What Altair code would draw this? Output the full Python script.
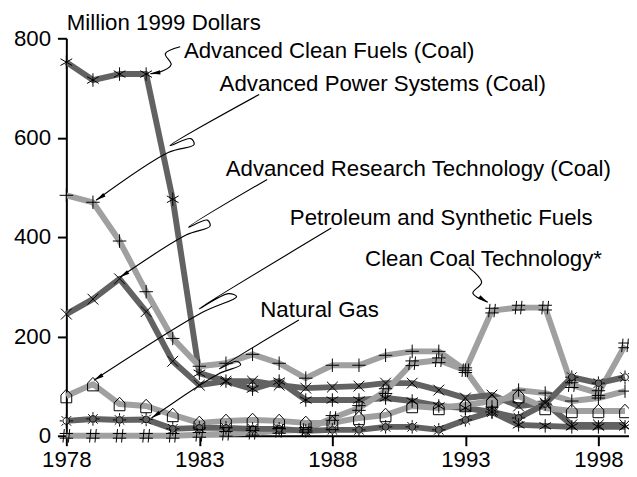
import math
import altair as alt
import pandas as pd

# ---------------- data ----------------
years = list(range(1978, 2000))

series_names = [
    "Advanced Clean Fuels (Coal)",
    "Advanced Power Systems (Coal)",
    "Advanced Research Technology (Coal)",
    "Petroleum and Synthetic Fuels",
    "Clean Coal Technology*",
    "Natural Gas",
]

adv_clean_fuels = [752, 716, 728, 728, 476, 126, 110, 94, 110, 72, 72, 72, 76, 70, 60, 56, 48, 22, 20, 18, 18, 18]
adv_power_sys = [484, 470, 392, 290, 196, 140, 146, 164, 146, 116, 142, 142, 162, 170, 170, 132, 58, 92, 86, 70, 76, 90]
adv_research = [245, 275, 316, 250, 150, 102, 110, 110, 102, 96, 98, 100, 106, 106, 92, 76, 82, 60, 66, 22, 22, 22]
petroleum = [80, 104, 64, 60, 42, 26, 30, 32, 30, 26, 26, 36, 42, 60, 56, 62, 70, 80, 56, 50, 50, 50]
clean_coal = [0, 0, 0, 0, 0, 2, 4, 6, 10, 12, 36, 56, 90, 146, 152, 132, 252, 258, 258, 102, 86, 182]
natural_gas = [30, 34, 32, 33, 14, 16, 16, 14, 14, 10, 12, 12, 18, 18, 12, 32, 48, 36, 64, 118, 106, 118]

series_values = [adv_clean_fuels, adv_power_sys, adv_research, petroleum, clean_coal, natural_gas]

DARK = "#626262"
LIGHT = "#a0a0a0"
series_colors = [DARK, LIGHT, DARK, LIGHT, LIGHT, DARK]

# marker glyphs (unit-square SVG paths)
STAR = "M0,-1L0,1M-0.87,-0.5L0.87,0.5M-0.87,0.5L0.87,-0.5"
PLUS = "M-1,0L1,0M0,-1L0,1"
XMARK = "M-0.8,-0.8L0.8,0.8M-0.8,0.8L0.8,-0.8"
HOUSE = "M-0.8,1L0.8,1L0.8,-0.15L0,-1L-0.8,-0.15Z"
HASH = "M-0.3,-1L-0.5,1M0.5,-1L0.3,1M-1,-0.35L1,-0.35M-1,0.35L1,0.35"
rays = "".join(
    "M{:.3f},{:.3f}L{:.3f},{:.3f}".format(
        0.62 * math.cos(a), 0.62 * math.sin(a), 1.0 * math.cos(a), 1.0 * math.sin(a)
    )
    for a in [k * math.pi / 4 for k in range(8)]
)
SUN = "M-0.5,0A0.5,0.5 0 1,0 0.5,0A0.5,0.5 0 1,0 -0.5,0" + rays
series_shapes = [STAR, PLUS, XMARK, HOUSE, HASH, SUN]

# annotation labels (left edge / baseline, in data units)
label_text = series_names
label_year = [1982.42, 1983.76, 1983.99, 1986.40, 1989.23, 1985.29]
label_value = [761, 693, 522, 424, 341, 239]

# annotation leader paths (data units), last point is the arrow tip
arrow_paths = {
    "Advanced Clean Fuels (Coal)": [(1982.28, 783), (1981.72, 769), (1981.94, 747), (1981.46, 731), (1981.16, 729)],
    "Advanced Power Systems (Coal)": [(1985.25, 687), (1981.90, 584), (1982.68, 598), (1982.80, 586), (1981.83, 570), (1979.12, 474)],
    "Advanced Research Technology (Coal)": [(1985.55, 516), (1982.60, 420), (1983.30, 434), (1983.40, 422), (1982.50, 404), (1980.01, 319)],
    "Petroleum and Synthetic Fuels": [(1987.96, 418), (1983.00, 256), (1984.10, 286), (1984.40, 280), (1983.10, 248), (1979.04, 112)],
    "Natural Gas": [(1986.74, 233), (1983.75, 135), (1984.40, 150), (1984.55, 143), (1983.70, 124), (1981.20, 36)],
    "Clean Coal Technology*": [(1993.13, 339), (1993.61, 309), (1993.28, 287), (1993.84, 269)],
}

# ---------------- layout ----------------
PLOT_W, PLOT_H = 569, 402
X_DOMAIN = [1978, 1999.15]
Y_DOMAIN = [0, 800]
PX_PER_YEAR = PLOT_W / (X_DOMAIN[1] - X_DOMAIN[0])
PX_PER_UNIT = PLOT_H / (Y_DOMAIN[1] - Y_DOMAIN[0])
FONT = "Liberation Sans"
FS = 22.5

rows = []
for name, vals in zip(series_names, series_values):
    for yr, v in zip(years, vals):
        rows.append({"series": name, "year": yr, "value": v})
df = pd.DataFrame(rows)

labels_df = pd.DataFrame({"label": label_text, "year": label_year, "value": label_value})

arrow_rows, head_rows = [], []
for name, pts in arrow_paths.items():
    for i, (x, y) in enumerate(pts):
        arrow_rows.append({"id": name, "ord": i, "year": x, "value": y})
    (x0, y0), (x1, y1) = pts[-2], pts[-1]
    dx = (x1 - x0) * PX_PER_YEAR
    dy = -(y1 - y0) * PX_PER_UNIT
    ang = math.degrees(math.atan2(dx, -dy)) % 360
    head_rows.append({"year": x1, "value": y1, "angle": ang})
arrows_df = pd.DataFrame(arrow_rows)
heads_df = pd.DataFrame(head_rows)

X = alt.X(
    "year:Q",
    scale=alt.Scale(domain=X_DOMAIN, nice=False, zero=False),
    axis=alt.Axis(
        values=[1978, 1983, 1988, 1993, 1998],
        format="d",
        title=None,
        tickSize=10,
        labelPadding=3,
        labelFlush=False,
        labelOverlap=False,
        grid=False,
    ),
)
Y = alt.Y(
    "value:Q",
    scale=alt.Scale(domain=Y_DOMAIN, nice=False),
    axis=alt.Axis(
        values=[0, 200, 400, 600, 800],
        title="Million 1999 Dollars",
        titleAngle=0,
        titleAlign="left",
        titleBaseline="alphabetic",
        titleX=0,
        titleY=-9,
        titleFontSize=FS,
        titleFontWeight="normal",
        titleFont=FONT,
        titleColor="black",
        tickSize=9,
        labelPadding=7,
        labelFlush=False,
        labelOverlap=False,
        grid=False,
    ),
)

color_scale = alt.Scale(domain=series_names, range=series_colors)
shape_scale = alt.Scale(domain=series_names, range=series_shapes)

lines = alt.Chart(df).mark_line(strokeWidth=6, strokeJoin="round").encode(
    x=X, y=Y,
    color=alt.Color("series:N", scale=color_scale, legend=None),
    detail="series:N",
)

points = alt.Chart(df).mark_point(
    filled=False, stroke="black", strokeWidth=1, size=185, opacity=1
).encode(
    x=X, y=Y,
    shape=alt.Shape("series:N", scale=shape_scale, legend=None),
)

texts = alt.Chart(labels_df).mark_text(
    align="left", baseline="alphabetic", fontSize=FS, font=FONT, color="black"
).encode(x=X, y=Y, text="label:N")

leaders = alt.Chart(arrows_df).mark_line(
    color="black", strokeWidth=1.2, interpolate="catmull-rom"
).encode(x=X, y=Y, detail="id:N", order="ord:Q")

heads = alt.Chart(heads_df).mark_point(
    shape="M0,0L-0.42,2L0.42,2Z", filled=True, color="black", size=100, opacity=1
).encode(x=X, y=Y, angle=alt.Angle("angle:Q", scale=None))

chart = alt.layer(lines, points, leaders, heads, texts).properties(
    width=PLOT_W,
    height=PLOT_H,
    autosize=alt.AutoSizeParams(type="none"),
    padding={"left": 59, "top": 28, "right": 0, "bottom": 38},
    background="white",
).configure_view(stroke=None).configure_axis(
    domainColor="black",
    domainWidth=2,
    tickColor="black",
    tickWidth=2,
    labelFontSize=FS,
    labelFont=FONT,
    labelColor="black",
)

chart.save("out.html", embed_options={"renderer": "svg", "actions": False})
